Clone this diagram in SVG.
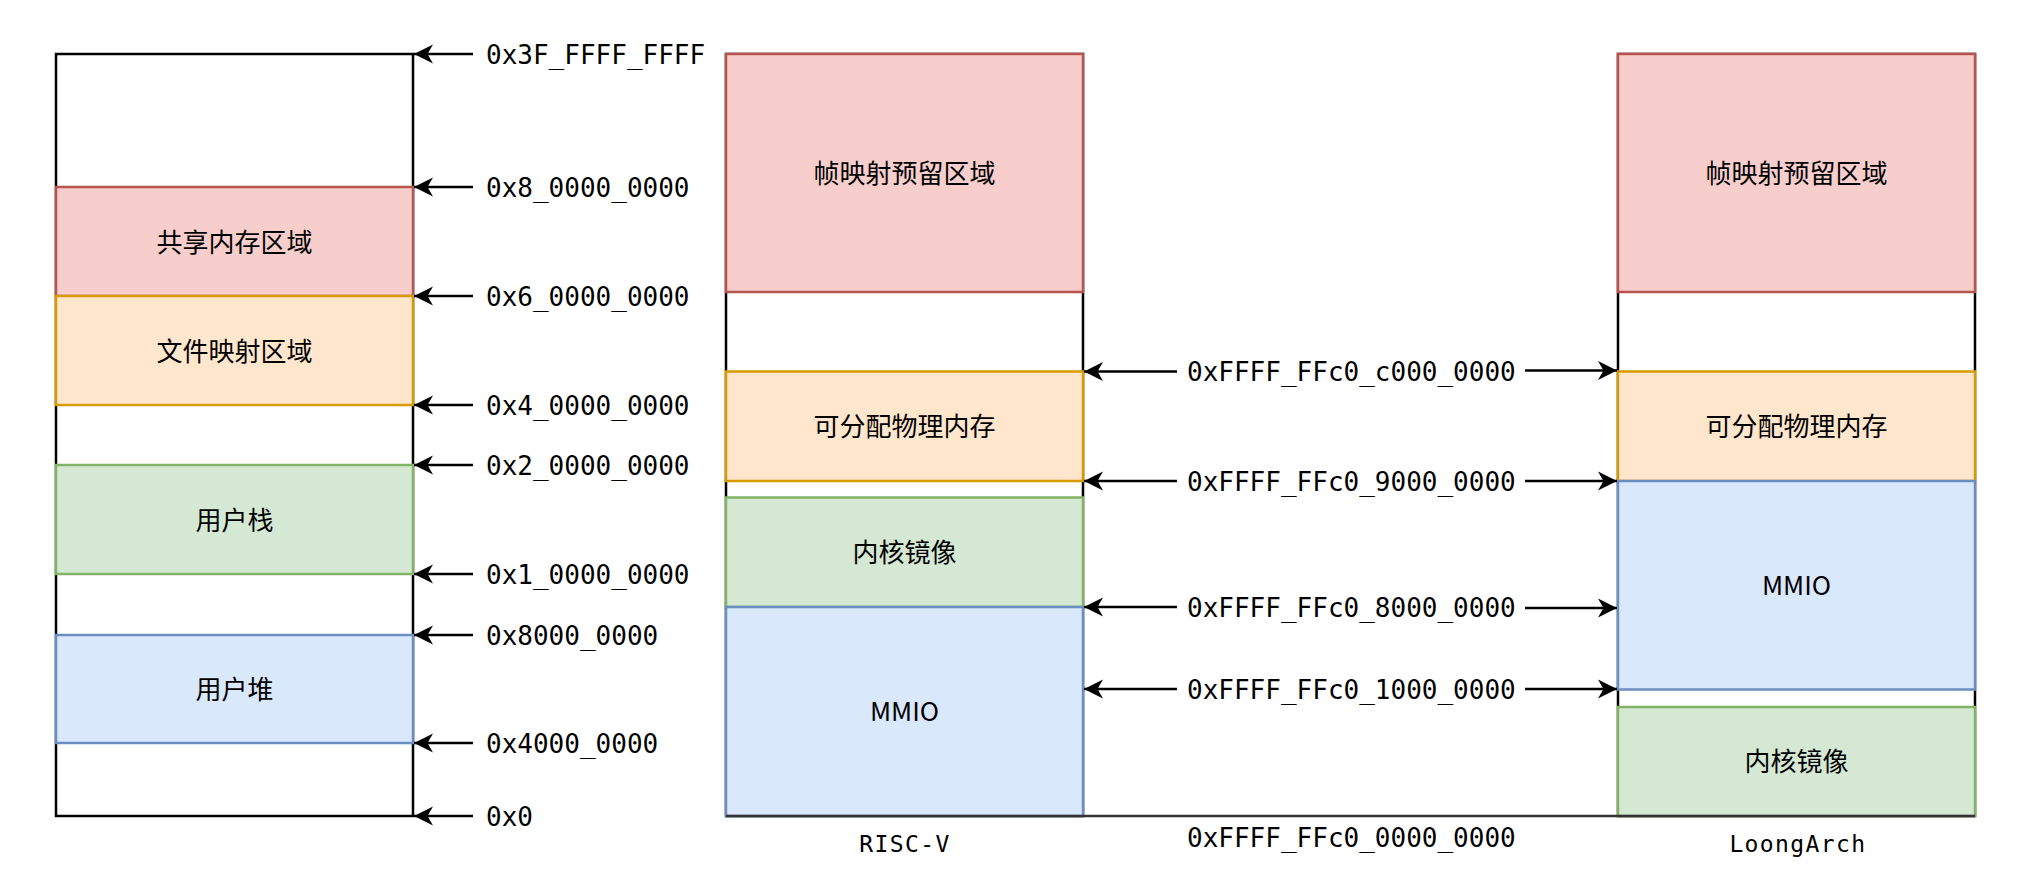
<svg xmlns="http://www.w3.org/2000/svg" width="2020" height="895" viewBox="0 0 2020 895">
<style>
.bg{fill:#ffffff}
.outer{fill:#ffffff;stroke:#000000;stroke-width:2.5}
.red{fill:#f8cecc;stroke:#b85450;stroke-width:2.5}
.org{fill:#ffe6cc;stroke:#d79b00;stroke-width:2.5}
.grn{fill:#d5e8d4;stroke:#82b366;stroke-width:2.5}
.blu{fill:#dae8fc;stroke:#6c8ebf;stroke-width:2.5}
.lbl{font-family:"Noto Sans CJK SC","Noto Sans",sans-serif;font-size:26px;fill:#000;text-anchor:middle}
.hex{font-family:"DejaVu Sans Mono",monospace;font-size:26px;fill:#000}
.arch{font-family:"DejaVu Sans Mono",monospace;font-size:23px;letter-spacing:1.4px;fill:#000;text-anchor:middle}
.arr{stroke:#000;stroke-width:2.5;fill:none;marker-end:url(#ah)}
</style>
<defs>
<marker id="ah" markerUnits="userSpaceOnUse" markerWidth="22" markerHeight="22" viewBox="-20 -10 22 20" refX="0" refY="0" orient="auto">
<path d="M0,0 L-19,-9.5 L-13.5,0 L-19,9.5 Z" fill="#000"/>
</marker>
</defs>
<rect class="bg" x="0" y="0" width="2020" height="895"/>

<g id="user-space">
<rect class="outer" x="56" y="54" width="357" height="762"/>
<g id="shm"><rect class="red" x="56" y="187" width="357" height="109"/><text class="lbl" x="234.5" y="251.5">共享内存区域</text></g>
<g id="mmap"><rect class="org" x="56" y="296" width="357" height="109"/><text class="lbl" x="234.5" y="360.5">文件映射区域</text></g>
<g id="ustack"><rect class="grn" x="56" y="465" width="357" height="109"/><text class="lbl" x="234.5" y="529.5">用户栈</text></g>
<g id="uheap"><rect class="blu" x="56" y="635" width="357" height="108"/><text class="lbl" x="234.5" y="699">用户堆</text></g>
</g>

<g id="riscv">
<rect class="outer" x="726" y="54" width="357" height="762"/>
<g id="rv-frame"><rect class="red" x="726" y="54" width="357" height="238"/><text class="lbl" x="904.5" y="183">帧映射预留区域</text></g>
<g id="rv-phys"><rect class="org" x="726" y="371.5" width="357" height="109.5"/><text class="lbl" x="904.5" y="436">可分配物理内存</text></g>
<g id="rv-kernel"><rect class="grn" x="726" y="497.5" width="357" height="109.5"/><text class="lbl" x="904.5" y="562">内核镜像</text></g>
<g id="rv-mmio"><rect class="blu" x="726" y="607" width="357" height="209"/><text class="lbl" x="904.5" y="721">MMIO</text></g>
<text class="arch" x="905" y="852">RISC-V</text>
</g>

<g id="loongarch">
<rect class="outer" x="1618" y="54" width="357" height="762"/>
<g id="la-frame"><rect class="red" x="1618" y="54" width="357" height="238"/><text class="lbl" x="1796.5" y="183">帧映射预留区域</text></g>
<g id="la-phys"><rect class="org" x="1618" y="371.5" width="357" height="109.5"/><text class="lbl" x="1796.5" y="436">可分配物理内存</text></g>
<g id="la-mmio"><rect class="blu" x="1618" y="481" width="357" height="208.5"/><text class="lbl" x="1796.5" y="595">MMIO</text></g>
<g id="la-kernel"><rect class="grn" x="1618" y="707" width="357" height="109"/><text class="lbl" x="1796.5" y="771">内核镜像</text></g>
<text class="arch" x="1798" y="852">LoongArch</text>
</g>

<g id="connectors">
<line x1="726" y1="816" x2="1975" y2="816" stroke="#333" stroke-width="2.5"/>
<line class="arr" x1="473" y1="54" x2="414" y2="54"/>
<line class="arr" x1="473" y1="187" x2="414" y2="187"/>
<line class="arr" x1="473" y1="296" x2="414" y2="296"/>
<line class="arr" x1="473" y1="405" x2="414" y2="405"/>
<line class="arr" x1="473" y1="465" x2="414" y2="465"/>
<line class="arr" x1="473" y1="574" x2="414" y2="574"/>
<line class="arr" x1="473" y1="635" x2="414" y2="635"/>
<line class="arr" x1="473" y1="743" x2="414" y2="743"/>
<line class="arr" x1="473" y1="816" x2="414" y2="816"/>

<line class="arr" x1="1177" y1="371.5" x2="1084" y2="371.5"/>
<line class="arr" x1="1177" y1="481" x2="1084" y2="481"/>
<line class="arr" x1="1177" y1="607" x2="1084" y2="607"/>
<line class="arr" x1="1177" y1="689" x2="1084" y2="689"/>
<line class="arr" x1="1525" y1="370.5" x2="1617" y2="370.5"/>
<line class="arr" x1="1525" y1="481" x2="1617" y2="481"/>
<line class="arr" x1="1525" y1="608" x2="1617" y2="608"/>
<line class="arr" x1="1525" y1="689" x2="1617" y2="689"/>
</g>

<g id="addr-labels">
<text class="hex" x="486" y="63.5">0x3F_FFFF_FFFF</text>
<text class="hex" x="486" y="196.5">0x8_0000_0000</text>
<text class="hex" x="486" y="305.5">0x6_0000_0000</text>
<text class="hex" x="486" y="414.5">0x4_0000_0000</text>
<text class="hex" x="486" y="474.5">0x2_0000_0000</text>
<text class="hex" x="486" y="583.5">0x1_0000_0000</text>
<text class="hex" x="486" y="644.5">0x8000_0000</text>
<text class="hex" x="486" y="752.5">0x4000_0000</text>
<text class="hex" x="486" y="825.5">0x0</text>
<text class="hex" x="1187" y="380.5">0xFFFF_FFc0_c000_0000</text>
<text class="hex" x="1187" y="490.5">0xFFFF_FFc0_9000_0000</text>
<text class="hex" x="1187" y="616.5">0xFFFF_FFc0_8000_0000</text>
<text class="hex" x="1187" y="698.5">0xFFFF_FFc0_1000_0000</text>
<text class="hex" x="1187" y="846.5">0xFFFF_FFc0_0000_0000</text>
</g>
</svg>
